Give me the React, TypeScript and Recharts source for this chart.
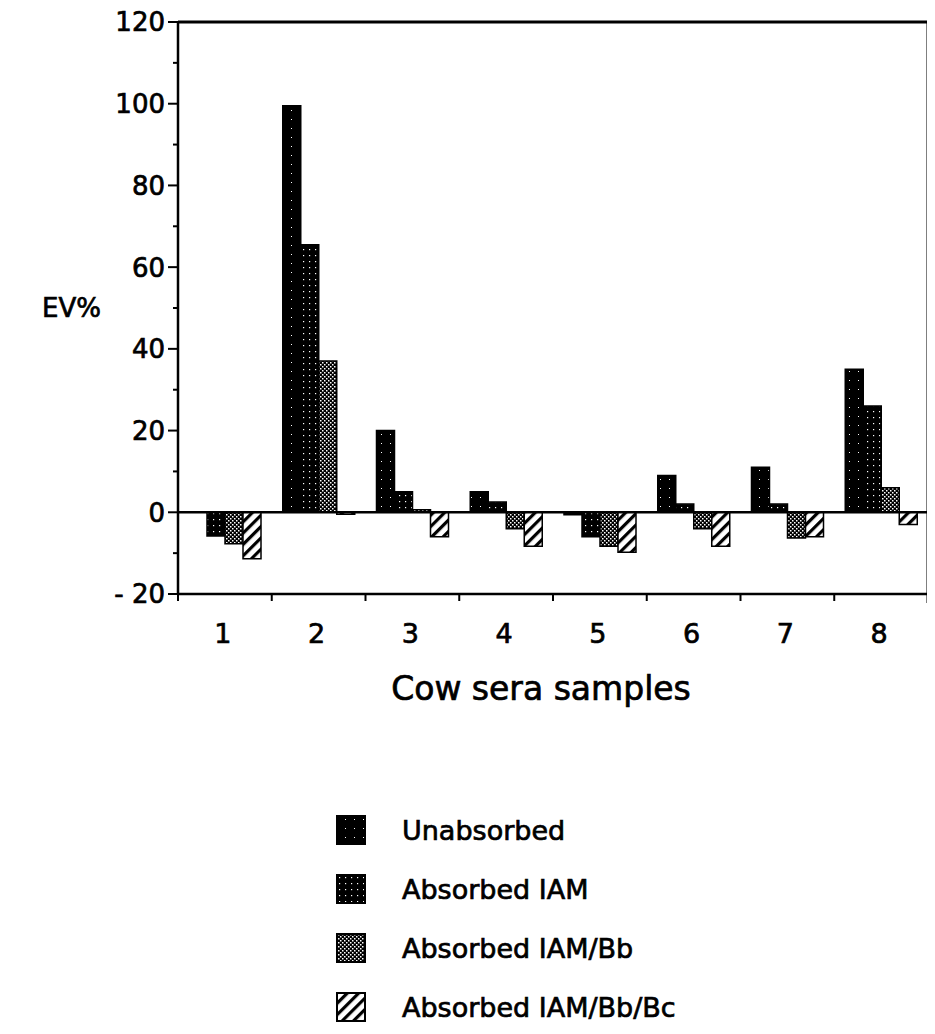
import React from 'react';
import { BarChart, Bar, XAxis, YAxis, ReferenceLine } from 'recharts';

const samples = ['1', '2', '3', '4', '5', '6', '7', '8'];
const unabsorbed = [0, 99.5, 20, 5, -0.6, 9, 11, 35];
const absorbedIAM = [-5.8, 65.5, 5, 2.5, -6, 2, 2, 26];
const absorbedIAMBb = [-7.7, 37, 0.6, -4, -8.3, -4, -6.3, 6];
const absorbedIAMBbBc = [-11.4, -0.5, -6, -8.3, -9.8, -8.3, -6, -3];

const seriesKeys = ['unabsorbed', 'iam', 'bb', 'bc'];
const seriesNames = ['Unabsorbed', 'Absorbed IAM', 'Absorbed IAM/Bb', 'Absorbed IAM/Bb/Bc'];
const yTicks = [-20, -10, 0, 10, 20, 30, 40, 50, 60, 70, 80, 90, 100, 110, 120];

const data = samples.map((s, i) => ({
  sample: s,
  unabsorbed: unabsorbed[i],
  iam: absorbedIAM[i],
  bb: absorbedIAMBb[i],
  bc: absorbedIAMBbBc[i],
}));

const FONT = '"DejaVu Sans", Verdana, sans-serif';
const TXT = { fontFamily: FONT, fill: '#000', stroke: '#000', strokeWidth: 0.7 };

const Patterns = ({ p }: { p: string }) => (
  <defs>
    <pattern id={`${p}-unabsorbed`} width={9} height={9} patternUnits="userSpaceOnUse">
      <rect width={9} height={9} fill="#000" />
      <rect x={4} y={3} width={1} height={1} fill="#fff" />
    </pattern>
    <pattern id={`${p}-iam`} width={6} height={6} patternUnits="userSpaceOnUse">
      <rect width={6} height={6} fill="#000" />
      <rect x={1} y={1} width={1.2} height={1.2} fill="#fff" />
    </pattern>
    <pattern id={`${p}-bb`} width={4} height={4} patternUnits="userSpaceOnUse">
      <rect width={4} height={4} fill="#000" />
      <rect x={0} y={0} width={1.5} height={1.5} fill="#fff" />
      <rect x={2} y={2} width={1.5} height={1.5} fill="#fff" />
    </pattern>
    <pattern id={`${p}-bc`} width={8} height={8} patternUnits="userSpaceOnUse" patternTransform="rotate(45)">
      <rect width={8} height={8} fill="#fff" />
      <rect width={3.2} height={8} fill="#000" />
    </pattern>
  </defs>
);

const YTick = (props: any) => {
  const { x, y, payload } = props;
  const v = payload.value;
  const major = v % 20 === 0;
  return (
    <g>
      <line x1={x - (major ? 10 : 5)} x2={x} y1={y} y2={y} stroke="#000" strokeWidth={2} />
      {major && (
        <text x={x - 13} y={y} dy="0.36em" textAnchor="end" fontSize={26} {...TXT}>
          {v < 0 ? `- ${-v}` : `${v}`}
        </text>
      )}
    </g>
  );
};

const XTick = (props: any) => {
  const { x, y, payload, index } = props;
  const half = payload && payload.offset ? payload.offset : (props.width ? props.width / samples.length / 2 : 47);
  const last = index === samples.length - 1;
  return (
    <g>
      <line x1={x - half} x2={x - half} y1={y} y2={y + 7} stroke="#000" strokeWidth={2} />
      {last && <line x1={x + half} x2={x + half} y1={y} y2={y + 9} stroke="#000" strokeWidth={3} />}
      <text x={x - 2} y={y + 49} textAnchor="middle" fontSize={27} {...TXT}>
        {payload.value}
      </text>
    </g>
  );
};

const XTitle = (p: any) => {
  const vb = p.viewBox || { x: 170, y: 586, width: 750 };
  return (
    <text x={vb.x + vb.width / 2 - 12} y={vb.y + 106} textAnchor="middle" fontSize={33} {...TXT}>
      Cow sera samples
    </text>
  );
};

const Legend = () => (
  <svg width={927} height={326} style={{ position: 'absolute', left: 0, top: 700 }}>
    <Patterns p="lg" />
    {seriesKeys.map((k, i) => {
      const cy = 122 + i * 59;
      return (
        <g key={k}>
          <rect x={329} y={cy - 14} width={28} height={28} fill={`url(#lg-${k})`} stroke="#000" strokeWidth={2} />
          <text x={394} y={cy} dy="0.36em" fontSize={27} {...TXT}>
            {seriesNames[i]}
          </text>
        </g>
      );
    })}
  </svg>
);

export default function App() {
  return (
    <div style={{ position: 'relative', width: 927, height: 1026, fontFamily: FONT }}>
      <BarChart
        width={927}
        height={700}
        data={data}
        margin={{ top: 14, right: 5, left: 0, bottom: 4 }}
        barCategoryGap={11}
        barGap={0}
      >
        <Patterns p="ch" />
        <XAxis
          dataKey="sample"
          height={110}
          interval={0}
          tickSize={0}
          tickMargin={0}
          tickLine={false}
          tick={<XTick />}
          axisLine={{ stroke: '#000', strokeWidth: 2.5 }}
          label={{ content: XTitle }}
        />
        <YAxis
          yAxisId="left"
          type="number"
          domain={[-20, 120]}
          ticks={yTicks}
          interval={0}
          width={170}
          tickSize={0}
          tickMargin={0}
          tickLine={false}
          tick={<YTick />}
          axisLine={{ stroke: '#000', strokeWidth: 2.5 }}
          label={{ value: 'EV%', position: 'insideLeft', offset: 34, fontSize: 26, ...TXT }}
        />
        <YAxis
          yAxisId="right"
          orientation="right"
          type="number"
          domain={[-20, 120]}
          width={2}
          tick={false}
          tickLine={false}
          axisLine={{ stroke: '#000', strokeWidth: 3 }}
        />
        {seriesKeys.map((k, i) => (
          <Bar
            key={k}
            yAxisId="left"
            dataKey={k}
            name={seriesNames[i]}
            fill={`url(#ch-${k})`}
            stroke="#000"
            strokeWidth={1.5}
            isAnimationActive={false}
          />
        ))}
        <ReferenceLine yAxisId="left" y={0} stroke="#000" strokeWidth={2.5} />
        <ReferenceLine yAxisId="left" y={120} stroke="#000" strokeWidth={3} />
      </BarChart>
      <Legend />
    </div>
  );
}
